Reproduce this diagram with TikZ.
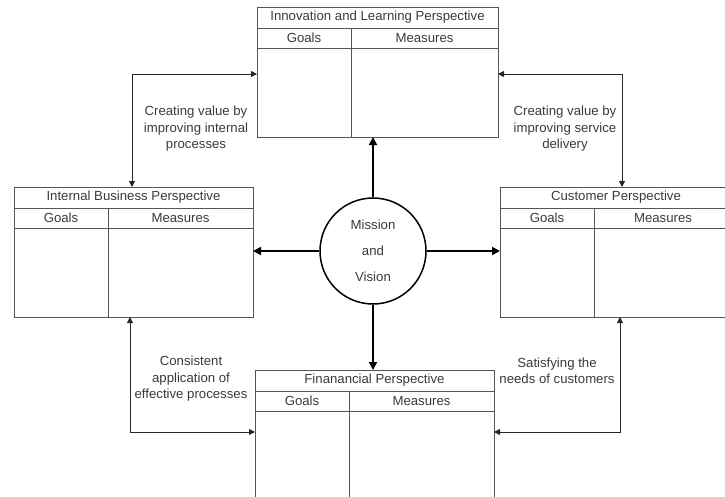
\documentclass[tikz,border=0pt]{standalone}
\usepackage{fontspec}
\setmainfont{Liberation Sans}
\usetikzlibrary{arrows.meta,positioning,calc}
\definecolor{boxgray}{HTML}{555555}
\definecolor{txtgray}{HTML}{3A3A3A}

\begin{document}
\begin{tikzpicture}[
    x=1pt, y=-1pt,
    node distance=0pt,
    txt/.style={font=\fontsize{13.2}{16.5}\selectfont, text=txtgray},
    pbox/.style={rectangle, draw=boxgray, line width=1pt, minimum width=240pt, minimum height=130pt, anchor=north west, inner sep=0pt, outer sep=0pt},
    ptitle/.style={txt, rectangle, draw=boxgray, line width=1pt, minimum width=240pt, minimum height=21pt, anchor=north west, inner sep=0pt, outer sep=0pt},
    pgoal/.style={txt, rectangle, draw=boxgray, line width=1pt, minimum width=94pt, minimum height=20pt, inner sep=0pt, outer sep=0pt},
    pmeas/.style={txt, rectangle, draw=boxgray, line width=1pt, minimum width=146pt, minimum height=20pt, inner sep=0pt, outer sep=0pt},
    arr/.style={-{Triangle[length=8pt,width=8pt]}, line width=1.8pt},
    conn/.style={{Triangle[length=6pt,width=6pt]}-{Triangle[length=6pt,width=6pt]}, line width=0.9pt, draw=black!85},
    lbl/.style={txt, align=center, inner sep=0pt}
]
\path[use as bounding box, clip] (0,0) rectangle (725,496);

% Innovation and Learning box (top)
\node[pbox, minimum width=241pt] (inn) at (257,7) {};
\node[ptitle, minimum width=241pt] (innT) at (257,7) {Innovation and Learning Perspective};
\node[pgoal, below=of innT.south west, anchor=north west] (innG) {Goals};
\node[pmeas, right=of innG, minimum width=147pt] (innM) {Measures};
\draw[boxgray, line width=1pt] (innG.south east) -- (innG.south east |- inn.south);

% Internal Business box (left)
\node[pbox, minimum width=239pt] (ibp) at (14,187) {};
\node[ptitle, minimum width=239pt] (ibpT) at (14,187) {Internal Business Perspective};
\node[pgoal, below=of ibpT.south west, anchor=north west] (ibpG) {Goals};
\node[pmeas, right=of ibpG, minimum width=145pt] (ibpM) {Measures};
\draw[boxgray, line width=1pt] (ibpG.south east) -- (ibpG.south east |- ibp.south);

% Customer box (right)
\node[pbox, minimum width=232pt] (cus) at (500,187) {};
\node[ptitle, minimum width=232pt] (cusT) at (500,187) {Customer Perspective};
\node[pgoal, below=of cusT.south west, anchor=north west] (cusG) {Goals};
\node[pmeas, right=of cusG, minimum width=138pt] (cusM) {Measures};
\draw[boxgray, line width=1pt] (cusG.south east) -- (cusG.south east |- cus.south);

% Financial box (bottom)
\node[pbox, minimum width=239pt] (fin) at (255,370) {};
\node[ptitle, minimum width=239pt] (finT) at (255,370) {Finanancial Perspective};
\node[pgoal, below=of finT.south west, anchor=north west] (finG) {Goals};
\node[pmeas, right=of finG, minimum width=145pt] (finM) {Measures};
\draw[boxgray, line width=1pt] (finG.south east) -- (finG.south east |- fin.south);

% Mission and Vision
\node[circle, draw, line width=1.5pt, minimum size=106pt, inner sep=0pt, txt, align=center, font=\fontsize{13.2}{26}\selectfont] (mv) at (373,251) {Mission\\and\\Vision};
\draw[arr] (mv.north) -- (mv.north |- inn.south);
\draw[arr] (mv.south) -- (mv.south |- fin.north);
\draw[arr] (mv.west) -- (mv.west -| ibp.east);
\draw[arr] (mv.east) -- (mv.east -| cus.west);

% links between perspectives
\coordinate (c1) at (132,74);
\coordinate (c2) at (622,74);
\coordinate (c3) at (130,432);
\coordinate (c4) at (620,432);
\draw[conn] (c1 |- ibp.north) -- (c1) -- (c1 -| inn.west);
\draw[conn] (c2 -| inn.east) -- (c2) -- (c2 |- cus.north);
\draw[conn] (c3 |- ibp.south) -- (c3) -- (c3 -| fin.west);
\draw[conn] (c4 |- cus.south) -- (c4) -- (c4 -| fin.east);

\node[lbl] (l1) at (196,129) {Creating value by\\improving internal\\processes};
\node[lbl] (l2) at (565,129) {Creating value by\\improving service\\delivery};
\node[lbl] (l3) at (191,379) {Consistent\\application of\\effective processes};
\node[lbl] (l4) at (557,371) {Satisfying the\\needs of customers};

\end{tikzpicture}
\end{document}
